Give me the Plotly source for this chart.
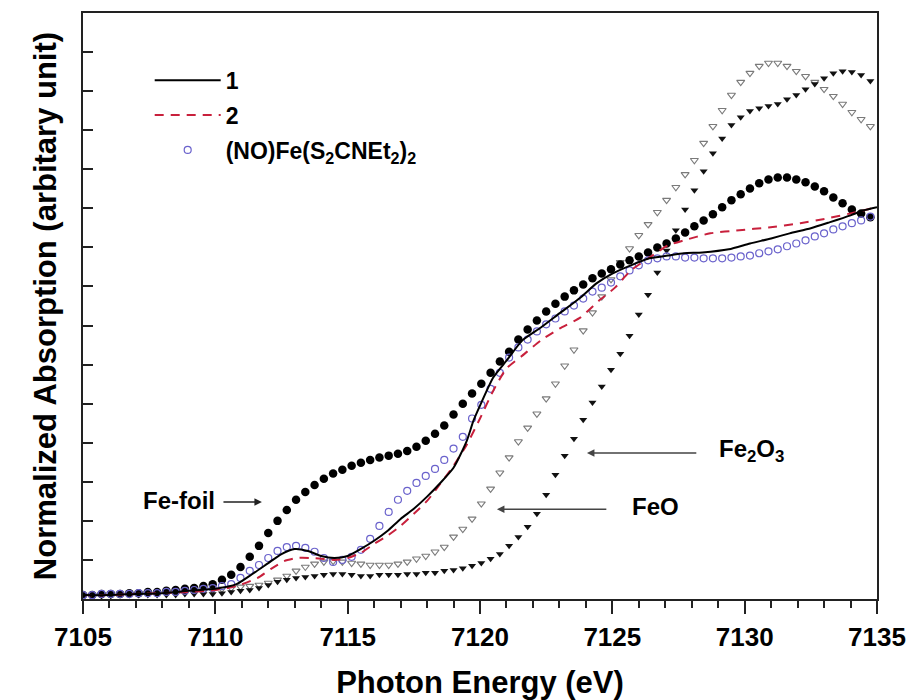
import plotly.graph_objects as go

# ---------------- data ----------------
# shared energy grid (eV) of the marker-sampled reference spectra
E_MARK = [round(7105 + 0.35 * i, 2) for i in range(86)]

FE_FOIL = [0.010, 0.010, 0.013, 0.013, 0.013, 0.015, 0.015, 0.018, 0.018, 0.021,
           0.023, 0.026, 0.028, 0.033, 0.038, 0.049, 0.062, 0.082, 0.108, 0.136,
           0.169, 0.200, 0.228, 0.254, 0.274, 0.292, 0.308, 0.321, 0.331, 0.341,
           0.349, 0.356, 0.362, 0.367, 0.372, 0.379, 0.390, 0.405, 0.423, 0.444,
           0.472, 0.500, 0.526, 0.551, 0.579, 0.608, 0.633, 0.664, 0.690, 0.713,
           0.736, 0.756, 0.774, 0.790, 0.805, 0.821, 0.833, 0.844, 0.856, 0.867,
           0.877, 0.887, 0.900, 0.910, 0.923, 0.938, 0.954, 0.969, 0.985, 1.003,
           1.021, 1.036, 1.051, 1.064, 1.074, 1.079, 1.079, 1.074, 1.067, 1.056,
           1.044, 1.028, 1.013, 0.997, 0.987, 0.977]

FEO = [0.010, 0.010, 0.010, 0.013, 0.013, 0.013, 0.013, 0.015, 0.015, 0.015,
       0.018, 0.018, 0.021, 0.021, 0.023, 0.026, 0.028, 0.031, 0.033, 0.036,
       0.041, 0.049, 0.059, 0.072, 0.082, 0.090, 0.095, 0.097, 0.095, 0.092,
       0.090, 0.087, 0.087, 0.087, 0.090, 0.095, 0.103, 0.110, 0.121, 0.133,
       0.159, 0.179, 0.205, 0.244, 0.282, 0.323, 0.362, 0.403, 0.438, 0.474,
       0.513, 0.551, 0.597, 0.638, 0.687, 0.733, 0.774, 0.818, 0.862, 0.897,
       0.931, 0.959, 0.990, 1.021, 1.054, 1.087, 1.123, 1.167, 1.210, 1.251,
       1.290, 1.323, 1.346, 1.364, 1.372, 1.372, 1.364, 1.351, 1.338, 1.323,
       1.305, 1.287, 1.267, 1.246, 1.228, 1.210]

FE2O3 = [0.008, 0.008, 0.008, 0.008, 0.010, 0.010, 0.010, 0.010, 0.010, 0.010,
         0.010, 0.013, 0.013, 0.013, 0.013, 0.015, 0.018, 0.021, 0.023, 0.028,
         0.036, 0.044, 0.049, 0.054, 0.056, 0.059, 0.062, 0.064, 0.064, 0.062,
         0.059, 0.059, 0.062, 0.062, 0.062, 0.064, 0.064, 0.067, 0.067, 0.072,
         0.074, 0.079, 0.085, 0.092, 0.103, 0.115, 0.136, 0.159, 0.185, 0.218,
         0.267, 0.318, 0.367, 0.410, 0.459, 0.503, 0.544, 0.587, 0.628, 0.674,
         0.728, 0.779, 0.836, 0.892, 0.944, 0.997, 1.046, 1.095, 1.141, 1.179,
         1.213, 1.233, 1.249, 1.256, 1.262, 1.267, 1.279, 1.290, 1.305, 1.318,
         1.333, 1.346, 1.351, 1.349, 1.341, 1.326]

NOFE = [0.010, 0.010, 0.013, 0.013, 0.013, 0.013, 0.015, 0.015, 0.015, 0.018,
        0.018, 0.021, 0.023, 0.026, 0.028, 0.033, 0.038, 0.054, 0.072, 0.087,
        0.105, 0.123, 0.133, 0.136, 0.131, 0.121, 0.105, 0.095, 0.100, 0.108,
        0.126, 0.154, 0.187, 0.223, 0.254, 0.277, 0.297, 0.315, 0.333, 0.356,
        0.385, 0.415, 0.462, 0.497, 0.538, 0.579, 0.618, 0.644, 0.664, 0.685,
        0.703, 0.718, 0.736, 0.751, 0.769, 0.787, 0.797, 0.810, 0.826, 0.841,
        0.854, 0.867, 0.872, 0.877, 0.877, 0.874, 0.874, 0.872, 0.872, 0.872,
        0.874, 0.877, 0.879, 0.885, 0.890, 0.895, 0.903, 0.910, 0.918, 0.928,
        0.936, 0.946, 0.954, 0.962, 0.969, 0.979]

E_1 = [7105, 7106, 7107, 7108, 7109, 7110, 7110.8, 7111.4, 7112, 7112.5,
       7113, 7113.5, 7114, 7114.5, 7115, 7115.5, 7116, 7116.5, 7117, 7117.5,
       7118, 7118.5, 7119, 7119.5, 7119.75, 7120, 7120.5, 7121, 7121.6, 7122.3,
       7123, 7123.8, 7124.4, 7125, 7125.7, 7126.4, 7127.1, 7127.7, 7128.4, 7129.4,
       7130.2, 7131, 7131.7, 7132.5, 7133.2, 7134, 7134.5, 7135]
Y_1 = [0.010, 0.010, 0.013, 0.015, 0.021, 0.026, 0.038, 0.064, 0.092, 0.115,
       0.128, 0.123, 0.110, 0.105, 0.110, 0.128, 0.149, 0.174, 0.205, 0.231,
       0.262, 0.297, 0.336, 0.405, 0.456, 0.495, 0.567, 0.610, 0.662, 0.695,
       0.731, 0.772, 0.808, 0.833, 0.854, 0.872, 0.879, 0.885, 0.887, 0.895,
       0.910, 0.923, 0.936, 0.949, 0.964, 0.982, 0.995, 1.003]

E_2 = [7105, 7106, 7107, 7108, 7109, 7110, 7110.8, 7111.6, 7112.1, 7112.6,
       7113.1, 7113.6, 7114, 7114.5, 7115, 7115.5, 7116, 7116.5, 7117, 7117.5,
       7118, 7118.5, 7119, 7119.5, 7120, 7120.5, 7121, 7121.6, 7122.3, 7123,
       7123.8, 7124.5, 7125.1, 7125.7, 7126.4, 7127.1, 7127.7, 7128.7, 7129.8, 7130.9,
       7132.1, 7133.1, 7134, 7135]
Y_2 = [0.010, 0.010, 0.013, 0.015, 0.018, 0.023, 0.033, 0.054, 0.077, 0.097,
       0.105, 0.105, 0.103, 0.100, 0.105, 0.118, 0.141, 0.162, 0.187, 0.218,
       0.251, 0.295, 0.341, 0.395, 0.462, 0.533, 0.590, 0.623, 0.662, 0.692,
       0.721, 0.764, 0.797, 0.841, 0.874, 0.905, 0.918, 0.936, 0.944, 0.951,
       0.962, 0.974, 0.987, 1.003]

X_TICKS = [7105, 7110, 7115, 7120, 7125, 7130, 7135]

FONT = "Liberation Sans, Arial, sans-serif"

# ---------------- figure ----------------
fig = go.Figure()

fig.add_trace(go.Scatter(x=E_MARK, y=FEO, mode="markers", showlegend=False,
                         marker=dict(symbol="triangle-down-open", size=7,
                                     color="#7a7a7a", line=dict(width=1.1))))
fig.add_trace(go.Scatter(x=E_MARK, y=FE2O3, mode="markers", showlegend=False,
                         marker=dict(symbol="triangle-down", size=7, color="#111111",
                                     line=dict(width=0))))
fig.add_trace(go.Scatter(x=E_MARK, y=FE_FOIL, mode="markers", showlegend=False,
                         marker=dict(symbol="circle", size=8.5, color="#000000",
                                     line=dict(width=0))))
fig.add_trace(go.Scatter(x=E_MARK, y=NOFE, mode="markers",
                         name="(NO)Fe(S<sub>2</sub>CNEt<sub>2</sub>)<sub>2</sub>",
                         legendrank=3, legendgroup="c",
                         marker=dict(symbol="circle-open", size=7, color="#6a62cc",
                                     line=dict(width=1.2))))
fig.add_trace(go.Scatter(x=E_2, y=Y_2, mode="lines", name="2", legendrank=2,
                         legendgroup="b",
                         line=dict(color="#c8203c", width=2, dash="9px,7px",
                                   shape="spline", smoothing=0.6)))
fig.add_trace(go.Scatter(x=E_1, y=Y_1, mode="lines", name="1", legendrank=1,
                         legendgroup="a",
                         line=dict(color="#000000", width=2,
                                   shape="spline", smoothing=0.6)))

# text labels and arrows
ann_font = dict(family=FONT, size=24, color="#000000", weight="bold")
annotations = [
    dict(x=7110.05, y=0.253, text="Fe-foil", showarrow=False, xanchor="right",
         yanchor="middle", font=ann_font),
    dict(x=7111.76, y=0.248, ax=7110.25, ay=0.248, axref="x", ayref="y",
         text="", showarrow=True, arrowhead=2, arrowsize=1, arrowwidth=1.5,
         arrowcolor="#222222", standoff=0, startstandoff=0),
    dict(x=7125.67, y=0.238, text="FeO", showarrow=False, xanchor="left",
         yanchor="middle", font=ann_font),
    dict(x=7120.64, y=0.230, ax=7124.83, ay=0.230, axref="x", ayref="y",
         text="", showarrow=True, arrowhead=2, arrowsize=1, arrowwidth=1.5,
         arrowcolor="#444444", standoff=0, startstandoff=0),
    dict(x=7128.95, y=0.381, text="Fe<sub>2</sub>O<sub>3</sub>", showarrow=False,
         xanchor="left", yanchor="middle", font=ann_font),
    dict(x=7124.04, y=0.374, ax=7128.23, ay=0.374, axref="x", ayref="y",
         text="", showarrow=True, arrowhead=2, arrowsize=1, arrowwidth=1.5,
         arrowcolor="#444444", standoff=0, startstandoff=0),
]

fig.update_layout(
    width=909, height=700,
    margin=dict(l=83, r=32, t=13, b=101),
    paper_bgcolor="white", plot_bgcolor="white",
    font=dict(family=FONT, color="#000000", weight="bold"),
    showlegend=True,
    legend=dict(x=0.084, y=0.922, xanchor="left", yanchor="top",
                bgcolor="rgba(0,0,0,0)", borderwidth=0,
                font=dict(family=FONT, size=23, weight="bold"),
                itemwidth=66, traceorder="grouped", tracegroupgap=2),
    annotations=annotations,
)

fig.update_xaxes(
    range=[7105, 7135], tickvals=X_TICKS, ticktext=[str(v) for v in X_TICKS],
    ticks="outside", ticklen=13, tickwidth=2, tickcolor="#222222",
    minor=dict(dtick=1, tick0=7105, ticks="outside", ticklen=7, tickwidth=1.5,
               tickcolor="#222222", showgrid=False),
    showline=True, linewidth=2, linecolor="#222222", mirror=True,
    showgrid=False, zeroline=False, automargin=False,
    tickfont=dict(family=FONT, size=26, weight="bold"),
    ticklabelstandoff=1,
    title=dict(text="Photon Energy (eV)", standoff=24,
               font=dict(family=FONT, size=31, weight="bold")),
)
fig.update_yaxes(
    range=[0, 1.5], dtick=0.1, tick0=0, showticklabels=False,
    ticks="inside", ticklen=10, tickwidth=1.5, tickcolor="#222222",
    showline=True, linewidth=2, linecolor="#222222", mirror=True,
    showgrid=False, zeroline=False, automargin=False,
    title=dict(text="Normalized Absorption (arbitary unit)", standoff=15,
               font=dict(family=FONT, size=31, weight="bold")),
)

fig.write_html("out.html")
